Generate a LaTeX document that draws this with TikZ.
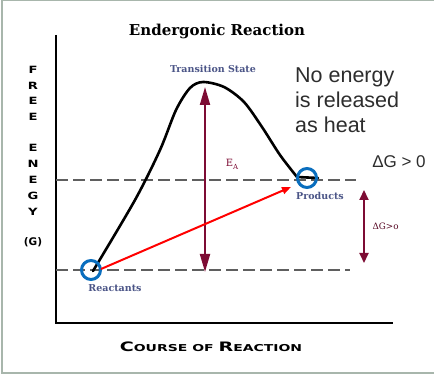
\documentclass[tikz,border=0pt]{standalone}
\usepackage{fontspec}
\setmainfont{DejaVu Serif}
\newfontfamily\heavysans{DejaVu Sans}
\newfontfamily\plainsans{Liberation Sans}
\usetikzlibrary{arrows.meta}
\definecolor{framec}{RGB}{168,182,172}
\definecolor{maroonc}{RGB}{125,12,52}
\definecolor{slatec}{RGB}{75,85,135}
\definecolor{ringc}{RGB}{10,110,190}
\definecolor{dashc}{RGB}{95,95,95}
\definecolor{textc}{RGB}{45,45,45}
\begin{document}
\begin{tikzpicture}[x=1pt,y=-1pt,
  axisline/.style={line width=2.6pt,black},
  guide/.style={dashc,line width=1.3pt,dash pattern=on 12pt off 5pt},
  ring/.style={circle,draw=ringc,line width=3pt,minimum size=19pt,inner sep=0pt},
  smalllab/.style={font=\bfseries\fontsize{9.5}{10}\selectfont,text=slatec},
  ylet/.style={font=\heavysans\bfseries\fontsize{10.5}{10}\selectfont},
  bigtext/.style={font=\plainsans\fontsize{21.5}{25}\selectfont,text=textc,align=left},
  marrow/.style={maroonc,line width=2pt,{Triangle[length=18pt,width=10pt]}-{Triangle[length=18pt,width=10pt]}}
]
\useasboundingbox (0,0) rectangle (434,374);
% frame
\draw[framec,line width=2pt] (434,0.5) -- (1.5,0.5) -- (1.5,372.5) -- (434,372.5);
% title
\node[font=\bfseries\fontsize{15}{16}\selectfont] (title) at (217,31) {Endergonic Reaction};
% axes
\coordinate (ytop) at (56,35);
\coordinate (orig) at (56,323);
\coordinate (xend) at (393,323);
\draw[axisline] (ytop) -- (orig) -- (xend);
% y label
\foreach \ch/\yy [count=\i] in {F/70,R/86,E/101,E/117,E/148,N/164,E/180,G/196,Y/212}
  \node[ylet] (yl\i) at (33,\yy) {\scalebox{1.25}[0.95]{\ch}};
\node[ylet] (ylg) at (33,242) {(G)};
% x label
\node[font=\heavysans\bfseries] (xlab) at (211,347) {\scalebox{1.47}[1]{{\fontsize{13}{13}\selectfont C}{\fontsize{9.5}{10}\selectfont OURSE OF }{\fontsize{13}{13}\selectfont R}{\fontsize{9.5}{10}\selectfont EACTION}}};
% dashed levels
\coordinate (upl) at (56,180);
\coordinate (upr) at (356,180);
\coordinate (lol) at (56,270);
\coordinate (lor) at (350,270);
\draw[guide] (upl) -- (upr);
\draw[guide] (lol) -- (lor);
% curve
\draw[line width=2.6pt,line join=round,line cap=round] plot[smooth,tension=0.5] coordinates {(93,271) (135,200) (160,150) (176,110) (190,88) (203,82) (224,87) (244,102) (262,127) (280,155) (297,177)} -- (318,178);
% rings
\node[ring] (react) at (91,270) {};
\node[ring] (prod) at (307,178) {};
% labels
\node[smalllab] (tslab) at (213,69) {Transition State};
\node[smalllab] (rlab) at (115,288) {Reactants};
\node[smalllab] (plab) at (320,196) {Products};
% EA arrow
\coordinate (eatop) at (205,87);
\coordinate (eabot) at (205,272);
\draw[marrow] (eabot) -- (eatop);
\node[font=\fontsize{10}{10}\selectfont,text=maroonc] (ea) at (232,164) {E\raisebox{-3pt}{\fontsize{7}{7}\selectfont A}};
% red arrow
\coordinate (rs) at (101,269);
\coordinate (re) at (291,187);
\draw[red,line width=2pt,-{Triangle[length=9pt,width=7pt]}] (rs) -- (re);
% Delta G arrow
\coordinate (dgt) at (364,190);
\coordinate (dgb) at (364,263);
\draw[maroonc,line width=2pt,{Triangle[length=10pt,width=9pt]}-{Triangle[length=10pt,width=9pt]}] (dgt) -- (dgb);
\node[font=\fontsize{8.8}{9}\selectfont,text=maroonc!70!black,anchor=west] (dglab) at (369,226) {ΔG>o};
% big text
\node[bigtext,anchor=north west,inner sep=0pt] (heat) at (295,68) {No energy\\is released\\as heat};
\node[font=\plainsans\fontsize{17}{18}\selectfont,text=textc] (dg) at (399,162) {ΔG > 0};
\end{tikzpicture}
\end{document}
